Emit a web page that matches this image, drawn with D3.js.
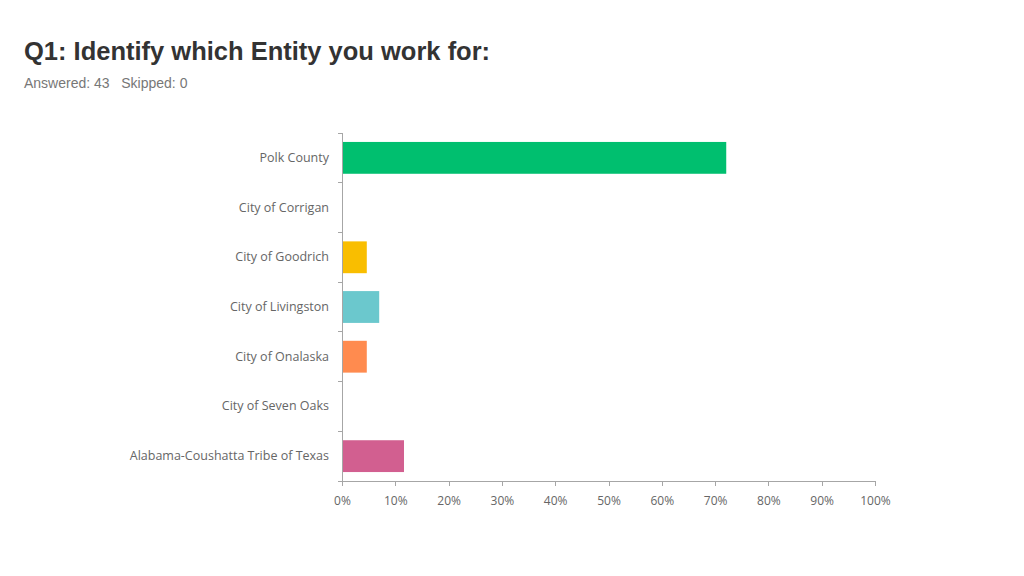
<!DOCTYPE html>
<html lang="en">
<head>
    <meta charset="UTF-8">
    <title>Q1</title>
    <script type="text/javascript" src="https://cdn.jsdelivr.net/npm/d3@7/dist/d3.min.js"></script>
</head>
<style>
    body{ margin:0; background:#fff; }
    .axis path,.axis line{
        fill:none;
        stroke:#a6a6a6;
        shape-rendering: crispEdges;
    }
    .axis text{
        font-family: "Open Sans", sans-serif;
        fill:#666;
    }
</style>
<body>

<script>
    var width = 1024;
    var height = 576;
    var svg = d3.select("body")
            .append("svg")
            .attr("width",width)
            .attr("height",height);

    // data
    var categories = ["Polk County","City of Corrigan","City of Goodrich","City of Livingston",
                      "City of Onalaska","City of Seven Oaks","Alabama-Coushatta Tribe of Texas"];
    var percents = [72.09, 0, 4.65, 6.98, 4.65, 0, 11.63];
    var colors = ["#00bf6f","#00bf6f","#f9be00","#6bc8cd","#ff8b4f","#a0d911","#d25f90"];
    var xTicks = [0,10,20,30,40,50,60,70,80,90,100];

    // title
    svg.append("text")
            .attr("x",24).attr("y",60)
            .attr("font-family","'Liberation Sans', Arial, sans-serif")
            .attr("font-weight","bold")
            .attr("font-size","25.5px")
            .attr("fill","#333")
            .text("Q1: Identify which Entity you work for:");
    svg.append("text")
            .attr("x",24).attr("y",88)
            .attr("font-family","'Liberation Sans', Arial, sans-serif")
            .attr("font-size","14px")
            .attr("fill","#777")
            .text("Answered: 43\u00a0\u00a0\u00a0Skipped: 0");

    // scales
    var x = d3.scaleLinear().domain([0,100]).range([342,875]);
    var y = d3.scaleBand().domain(categories).range([133,481]).paddingInner(0.36).paddingOuter(0.18);

    // bars
    svg.selectAll("rect.bar")
            .data(percents)
            .enter()
            .append("rect")
            .attr("class","bar")
            .attr("x",x(0))
            .attr("y",function(d,i){ return y(categories[i]); })
            .attr("width",function(d){ return x(d)-x(0); })
            .attr("height",y.bandwidth())
            .attr("fill",function(d,i){ return colors[i]; });

    // y axis (labels only, boundary ticks added below)
    var yAxis = d3.axisLeft(y).tickSize(0).tickPadding(13);
    var gy = svg.append("g")
            .attr("class","axis")
            .attr("transform","translate("+x(0)+",0)")
            .call(yAxis);
    gy.selectAll("text").attr("font-size","12.5px");
    gy.select(".domain").attr("d","M0,133V481");
    var bounds = d3.range(categories.length+1).map(function(i){ return 133 + i*(481-133)/categories.length; });
    gy.selectAll("line.bound")
            .data(bounds)
            .enter()
            .append("line")
            .attr("class","bound")
            .attr("x1",-4).attr("x2",0)
            .attr("y1",function(d){ return d; })
            .attr("y2",function(d){ return d; });

    // x axis
    var xAxis = d3.axisBottom(x)
            .tickValues(xTicks)
            .tickSize(5)
            .tickSizeOuter(0)
            .tickPadding(10)
            .tickFormat(function(d){ return d+"%"; });
    var gx = svg.append("g")
            .attr("class","axis")
            .attr("transform","translate(0,481)")
            .call(xAxis);
    gx.selectAll("text").attr("font-size","12px");
</script>
</body>
</html>
